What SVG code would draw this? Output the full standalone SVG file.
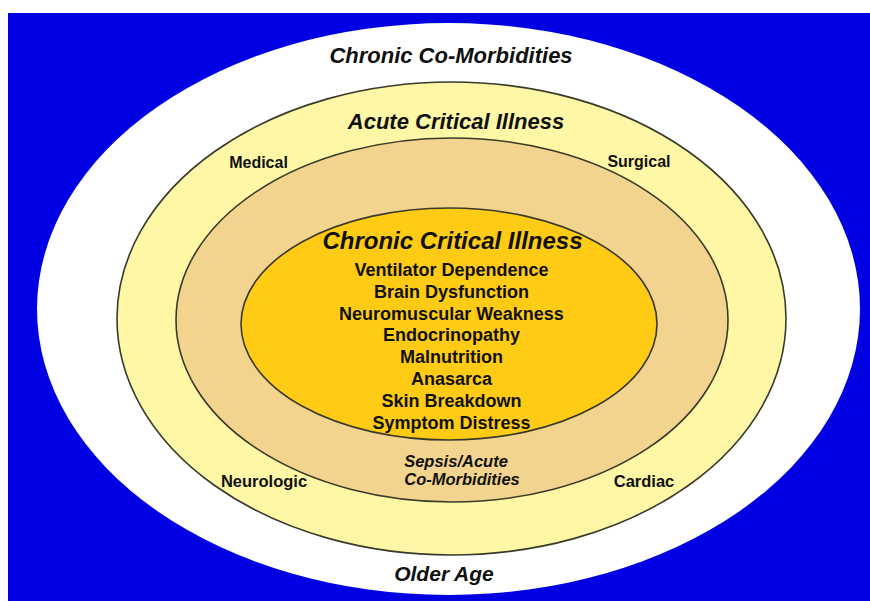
<svg xmlns="http://www.w3.org/2000/svg" width="870" height="601" viewBox="0 0 870 601">
<style>
  text{font-family:"Liberation Sans",Arial,sans-serif;font-weight:bold;fill:#111;text-anchor:middle}
  .it{font-style:italic}
  .ring{stroke:#3a3a2a;stroke-width:1.6}
  .t22{font-size:22px}
  .t16{font-size:16.5px}
  .t18{font-size:18px}
</style>
<rect x="0" y="0" width="870" height="601" fill="#ffffff"/>
<rect x="8" y="13" width="862" height="588" fill="#0000e2"/>
<g id="chronic-comorbidities">
  <ellipse cx="448.5" cy="309" rx="411.5" ry="286" fill="#ffffff"/>
  <text class="t22 it" x="451" y="63">Chronic Co-Morbidities</text>
  <text class="it" style="font-size:21px" x="444" y="581">Older Age</text>
</g>
<g id="acute-critical-illness">
  <ellipse class="ring" cx="451.5" cy="318.5" rx="334.5" ry="236.5" fill="#fdf7a6"/>
  <text class="t22 it" x="456" y="129">Acute Critical Illness</text>
  <text style="font-size:16px" x="258.5" y="168">Medical</text>
  <text style="font-size:16px" x="639" y="167">Surgical</text>
  <text class="t16" x="264" y="487">Neurologic</text>
  <text class="t16" x="644" y="487">Cardiac</text>
</g>
<g id="sepsis-acute-comorbidities">
  <ellipse class="ring" cx="452" cy="320" rx="276" ry="182" fill="#f3d48e"/>
  <text class="t16 it" x="456" y="467">Sepsis/Acute</text>
  <text class="t16 it" x="462" y="485">Co-Morbidities</text>
</g>
<g id="chronic-critical-illness">
  <ellipse class="ring" cx="449" cy="324" rx="208" ry="116" fill="#ffcb14"/>
  <text style="font-size:24px" class="it" x="452.5" y="249">Chronic Critical Illness</text>
  <text class="t18" x="451.5" y="276">Ventilator Dependence</text>
  <text class="t18" x="451.5" y="297.8">Brain Dysfunction</text>
  <text class="t18" x="451.5" y="319.6">Neuromuscular Weakness</text>
  <text class="t18" x="451.5" y="341.4">Endocrinopathy</text>
  <text class="t18" x="451.5" y="363.2">Malnutrition</text>
  <text class="t18" x="451.5" y="385">Anasarca</text>
  <text class="t18" x="451.5" y="406.8">Skin Breakdown</text>
  <text class="t18" x="451.5" y="428.6">Symptom Distress</text>
</g>
<g id="connectors"/>
</svg>
